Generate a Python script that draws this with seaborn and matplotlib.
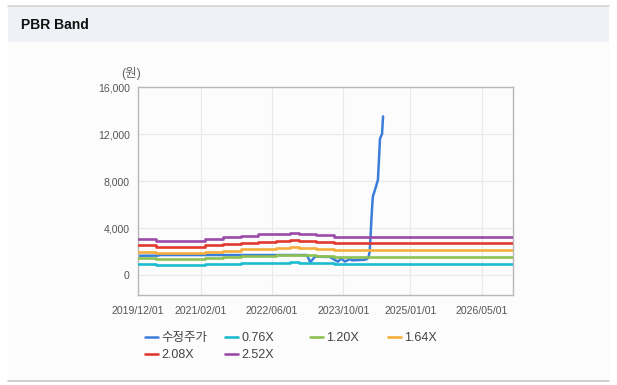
import numpy as np
import pandas as pd
import matplotlib
matplotlib.use("Agg")
import matplotlib.pyplot as plt
import matplotlib.dates as mdates
from matplotlib.patches import Rectangle
from matplotlib.ticker import FuncFormatter
import seaborn as sns

# adjusted share price (수정주가)
price_dates = ["2019-12-01", "2020-04-15", "2020-05-01", "2023-01-25", "2023-02-18",
               "2023-03-22", "2023-07-02", "2023-08-25", "2023-09-15", "2023-10-12",
               "2023-11-15", "2023-11-29", "2024-01-22", "2024-02-25", "2024-03-15",
               "2024-03-22", "2024-03-29", "2024-04-05", "2024-04-12", "2024-04-19",
               "2024-05-10", "2024-05-24", "2024-05-31", "2024-06-07", "2024-06-21",
               "2024-06-28"]
price_values = [1640, 1650, 1700, 1700, 1100,
                1560, 1540, 1130, 1400, 1150,
                1350, 1250, 1280, 1300, 1400,
                1600, 2000, 3600, 5300, 6650,
                7500, 8100, 9800, 11600, 12000,
                13500]

# book value per share steps used for the band lines
bps_dates = ["2019-12-01", "2020-04-01", "2021-03-01", "2021-07-01", "2021-11-01",
             "2022-03-01", "2022-07-01", "2022-10-01", "2022-12-01", "2023-04-01",
             "2023-08-01", "2026-12-01"]
bps_values = [1210, 1160, 1215, 1270, 1325,
              1370, 1395, 1430, 1395, 1350,
              1290, 1290]

multiples = [0.76, 1.20, 1.64, 2.08, 2.52]
band_labels = ["0.76X", "1.20X", "1.64X", "2.08X", "2.52X"]
band_colors = ["#1cbcd0", "#8dc152", "#f6ae3c", "#e2392f", "#9b4ba8"]
price_label = "수정주가"
price_color = "#3b7ddb"

x_ticks = ["2019-12-01", "2021-02-01", "2022-06-01", "2023-10-01", "2025-01-01", "2026-05-01"]
y_ticks = [0, 4000, 8000, 12000, 16000]

sns.set_style("white")
plt.rcParams['font.family'] = ['Liberation Sans', 'Noto Sans CJK KR', 'DejaVu Sans']

W, H = 617, 385
fig = plt.figure(figsize=(W / 100, H / 100), dpi=100)
fig.patch.set_facecolor("white")

# panel background, header strip and border lines
fig.add_artist(Rectangle((8 / W, 1 - 381 / H), 601 / W, 339 / H, transform=fig.transFigure,
                         facecolor="#fcfcfc", edgecolor="none", zorder=-2))
fig.add_artist(Rectangle((8 / W, 1 - 42 / H), 601 / W, 36 / H, transform=fig.transFigure,
                         facecolor="#eef2f6", edgecolor="none", zorder=-1))
fig.add_artist(plt.Line2D([8 / W, 609 / W], [1 - 6 / H, 1 - 6 / H], transform=fig.transFigure,
                          color="#d4d4d4", lw=1.2))
fig.add_artist(plt.Line2D([8 / W, 609 / W], [1 - 381 / H, 1 - 381 / H], transform=fig.transFigure,
                          color="#c8c8c8", lw=1.2))
fig.text(21 / W, 1 - 25 / H, "PBR Band", fontsize=10, fontweight="bold", color="#111111",
         va="center", ha="left")

ax = fig.add_axes([138 / W, 1 - 295 / H, 375 / W, 208 / H])
ax.set_facecolor("#fcfcfc")

sns.lineplot(x=pd.to_datetime(price_dates), y=price_values, ax=ax, color=price_color,
             lw=1.8, label=price_label, legend=False, zorder=2)
bps_x = pd.to_datetime(bps_dates)
for m, lab, col in zip(multiples, band_labels, band_colors):
    sns.lineplot(x=bps_x, y=np.array(bps_values) * m, ax=ax, color=col, lw=1.9,
                 drawstyle="steps-post", label=lab, legend=False, zorder=3)

ax.set_xlim(pd.Timestamp("2019-12-01"), pd.Timestamp("2026-12-01"))
ax.set_ylim(-1700, 16000)
ax.set_xticks(pd.to_datetime(x_ticks))
ax.xaxis.set_major_formatter(mdates.DateFormatter("%Y/%m/%d"))
ax.set_yticks(y_ticks)
ax.yaxis.set_major_formatter(FuncFormatter(lambda v, p: f"{int(v):,}"))
ax.set_xlabel("")
ax.set_ylabel("")
ax.grid(True, color="#e9e9e9", lw=0.8)
ax.set_axisbelow(True)
for s in ax.spines.values():
    s.set_color("#b8b8b8")
    s.set_linewidth(1)
ax.tick_params(axis="both", length=4, width=1, color="#b8b8b8", labelsize=7.6,
               labelcolor="#555555", pad=2)
ax.tick_params(axis="x", pad=4)

fig.text(131 / W, 1 - 73 / H, "(원)", fontsize=9, color="#666666", ha="center", va="center")

# legend laid out in a fixed grid like the original
handles, labels = ax.get_legend_handles_labels()
slots = [(145, 338), (225, 338), (310, 338), (388, 338), (145, 355), (225, 355)]
for h, l, (px, py) in zip(handles, labels, slots):
    fig.legend([h], [l], loc="center left", bbox_to_anchor=(px / W, 1 - py / H),
               frameon=False, fontsize=9, handlelength=1.0, handletextpad=0.3,
               borderpad=0, borderaxespad=0, labelcolor="#444444")

fig.savefig("out.png", dpi=100)
